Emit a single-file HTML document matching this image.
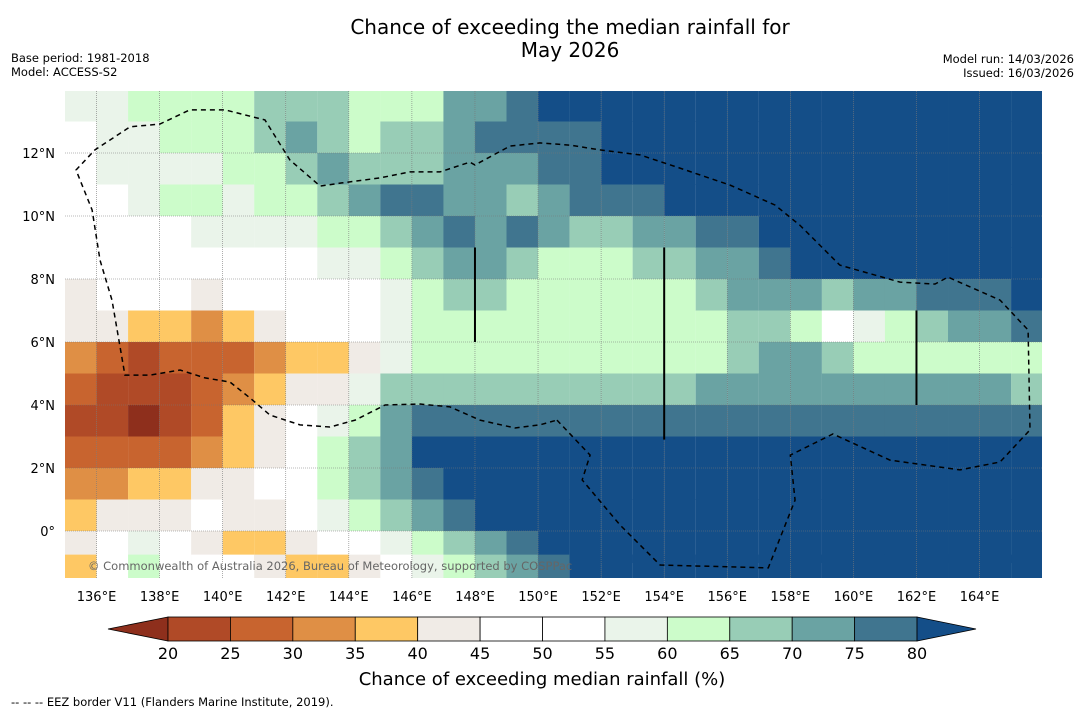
<!DOCTYPE html>
<html><head><meta charset="utf-8"><style>
body{margin:0;background:#fff;font-family:"Liberation Sans","DejaVu Sans",sans-serif;}
svg text{font-family:"DejaVu Sans","Liberation Sans",sans-serif;}
</style></head><body>
<svg id="chart" width="1085" height="713" xmlns="http://www.w3.org/2000/svg">
<text x="570" y="34" font-size="20" text-anchor="middle">Chance of exceeding the median rainfall for</text>
<text x="570" y="57" font-size="20" text-anchor="middle">May 2026</text>
<text x="11" y="62" font-size="11.5">Base period: 1981-2018</text>
<text x="11" y="76" font-size="11.5">Model: ACCESS-S2</text>
<text x="1074" y="63" font-size="11.5" text-anchor="end">Model run: 14/03/2026</text>
<text x="1074" y="77" font-size="11.5" text-anchor="end">Issued: 16/03/2026</text>
<defs><clipPath id="mapclip"><rect x="65" y="91" width="977" height="487"/></clipPath></defs>
<g id="map" clip-path="url(#mapclip)"></g>
<g id="axes"></g>
<g id="cbar"></g>
<text x="542" y="685" font-size="18" text-anchor="middle">Chance of exceeding median rainfall (%)</text>
<text x="11" y="706" font-size="11.5">--  --  -- EEZ border V11 (Flanders Marine Institute, 2019).</text>
</svg>
<script>
const levels=[20,25,30,35,40,45,50,55,60,65,70,75,80];
const colors=["#8e2f1c","#b04a27","#c8642f","#df8f45","#fec864","#f0ebe6","#ffffff","#ffffff","#eaf4ea","#ccfcca","#98cdb6","#6aa3a3","#40758f","#144e88"];
const lats=[13.5,12.5,11.5,10.5,9.5,8.5,7.5,6.5,5.5,4.5,3.5,2.5,1.5,0.5,-0.5,-1.25];
const lons=[135.5,136.5,137.5,138.5,139.5,140.5,141.5,142.5,143.5,144.5,145.5,146.5,147.5,148.5,149.5,150.5,151.5,152.5,153.5,154.5,155.5,156.5,157.5,158.5,159.5,160.5,161.5,162.5,163.5,164.5,165.5];
const grid=[
[57,57,62,62,62,62,67,67,67,62,62,62,72,72,77,85,85,85,85,85,85,85,85,85,85,85,85,85,85,85,85],
[52,57,57,62,62,62,67,72,67,62,67,67,72,77,77,77,77,82,85,85,85,85,85,85,85,85,85,85,85,85,85],
[52,57,57,57,57,62,62,67,72,67,67,67,72,72,72,77,77,82,85,85,85,85,85,85,85,85,85,85,85,85,85],
[50,52,57,62,62,57,62,62,67,72,77,77,72,72,67,72,77,77,77,82,85,85,85,85,85,85,85,85,85,85,85],
[47,50,52,52,57,57,57,57,62,62,67,72,77,72,77,72,67,67,72,72,77,77,82,85,85,85,85,85,85,85,85],
[45,45,50,50,50,50,52,52,57,57,62,67,72,72,67,62,62,62,67,67,72,72,77,82,85,85,85,85,85,85,85],
[42,45,45,47,42,45,47,50,52,52,57,62,67,67,62,62,62,62,62,62,67,72,72,72,67,72,72,77,77,77,82],
[42,42,37,37,32,37,42,45,47,52,57,62,62,62,62,62,62,62,62,62,62,67,67,62,52,57,62,67,72,72,77],
[32,27,22,27,27,27,32,37,37,42,57,62,62,62,62,62,62,62,62,62,62,67,72,72,67,62,62,62,62,62,62],
[27,22,22,22,27,32,37,42,42,57,67,67,67,67,67,67,67,67,67,67,72,72,72,72,72,72,72,72,72,72,67],
[22,22,17,22,27,37,42,47,57,62,72,77,77,77,77,77,77,77,77,77,77,77,77,77,77,77,77,77,77,77,77],
[27,27,27,27,32,37,42,52,62,67,72,82,85,85,85,85,85,85,85,85,85,85,85,85,85,85,85,85,85,85,85],
[32,32,37,37,42,42,47,50,62,67,72,77,82,85,85,85,85,85,85,85,85,85,85,85,85,85,85,85,85,85,85],
[37,42,42,42,47,42,42,50,57,62,67,72,77,85,85,85,85,85,85,85,85,85,85,85,85,85,85,85,85,85,85],
[42,47,57,47,42,37,37,42,45,50,57,62,67,72,77,82,85,85,85,85,85,85,85,85,85,85,85,85,85,85,85],
[37,52,62,52,47,47,42,37,37,42,52,57,62,67,72,77,82,85,85,85,85,85,85,85,85,85,85,85,85,85,85]];
const lonTicks=[136,138,140,142,144,146,148,150,152,154,156,158,160,162,164];
const latTicks=[0,2,4,6,8,10,12];
const eezLon=[150.6,151.65,151.4,152.6,153.87,157.3,158.15,158.0,159.35,161.16,163.38,164.65,165.6,165.54,164.65,163.0,162.59,161.48,159.57,158.3,157.51,156.09,154.5,153.23,151.96,151.01,150.06,149.11,148.0,147.84,146.89,145.94,144.99,143.78,143.09,142.13,141.34,140.07,138.96,138.01,137.06,135.95,135.35,135.86,136.11,136.49,136.9,137.7,138.65,139.44,140.23,140.87,141.5,142.45,143.4,144.2,145.15,146.26,147.21,148.16,149.27,150.06,150.6];
const eezLat=[3.52,2.41,1.62,0.19,-1.08,-1.17,0.98,2.41,3.08,2.25,1.94,2.19,3.21,6.38,7.33,8.06,7.84,7.9,8.44,9.71,10.35,10.98,11.52,11.94,12.1,12.25,12.32,12.22,11.62,11.71,11.4,11.4,11.21,11.05,10.95,11.78,13.05,13.37,13.37,12.92,12.83,12.1,11.46,10.19,8.6,7.33,4.95,4.95,5.11,4.86,4.73,4.22,3.68,3.37,3.3,3.52,4.0,4.03,3.94,3.52,3.27,3.37,3.52];
const vLines=[[148,6,9],[154,2.9,9],[162,4,7]];
const ns="http://www.w3.org/2000/svg";
const X=lon=>65+(lon-135)*31.536;
const Y=lat=>531-lat*31.5;
function colorFor(v){let i=0;while(i<levels.length&&v>=levels[i])i++;return colors[i];}
const map=document.getElementById('map');
grid.forEach((row,r)=>row.forEach((v,c)=>{
  const el=document.createElementNS(ns,'rect');
  
  
  const top=r===0?14:lats[r]+0.5;
  const bot=r===lats.length-1?-1.6:lats[r]-0.5;
  el.setAttribute('x',X(lons[c]-0.5));el.setAttribute('y',Y(top));
  el.setAttribute('width',31.6);el.setAttribute('height',Y(bot)-Y(top)+0.5);
  el.setAttribute('fill',colorFor(v));map.appendChild(el);
}));
lonTicks.forEach(l=>{const g=document.createElementNS(ns,'line');
  
  
  g.setAttribute('x1',X(l));g.setAttribute('x2',X(l));g.setAttribute('y1',91);g.setAttribute('y2',578);
  g.setAttribute('stroke','#777');g.setAttribute('stroke-width','0.6');g.setAttribute('stroke-dasharray','1,1');map.appendChild(g);});
latTicks.forEach(l=>{const g=document.createElementNS(ns,'line');
  
  
  g.setAttribute('x1',65);g.setAttribute('x2',1042);g.setAttribute('y1',Y(l));g.setAttribute('y2',Y(l));
  g.setAttribute('stroke','#777');g.setAttribute('stroke-width','0.6');g.setAttribute('stroke-dasharray','1,1');map.appendChild(g);});
const eez=document.createElementNS(ns,'polyline');


eez.setAttribute('points',eezLon.map((l,i)=>X(l)+','+Y(eezLat[i])).join(' '));
eez.setAttribute('fill','none');eez.setAttribute('stroke','#000');eez.setAttribute('stroke-width','1.5');eez.setAttribute('stroke-dasharray','5,4');
map.appendChild(eez);
vLines.forEach(v=>{const g=document.createElementNS(ns,'line');
  
  
  g.setAttribute('x1',X(v[0]));g.setAttribute('x2',X(v[0]));g.setAttribute('y1',Y(v[2]));g.setAttribute('y2',Y(v[1]));
  g.setAttribute('stroke','#000');g.setAttribute('stroke-width','2');map.appendChild(g);});
const cp=document.createElementNS(ns,'text');


cp.setAttribute('x',88);cp.setAttribute('y',570);cp.setAttribute('font-size','11.5');cp.setAttribute('fill','#666');
cp.textContent='© Commonwealth of Australia 2026, Bureau of Meteorology, supported by COSPPac';map.appendChild(cp);
const axes=document.getElementById('axes');
lonTicks.forEach(l=>{const t=document.createElementNS(ns,'text');
  
  
  t.setAttribute('x',X(l));t.setAttribute('y',601);t.setAttribute('font-size','13');t.setAttribute('text-anchor','middle');
  t.textContent=l+'°E';axes.appendChild(t);});
latTicks.forEach(l=>{const t=document.createElementNS(ns,'text');
  
  
  t.setAttribute('x',55);t.setAttribute('y',Y(l)+5);t.setAttribute('font-size','13');t.setAttribute('text-anchor','end');
  t.textContent=l===0?'0°':l+'°N';axes.appendChild(t);});
const cb=document.getElementById('cbar');
const cx0=168,cw=62.42,cy=617,ch=24;
const lt=document.createElementNS(ns,'polygon');


lt.setAttribute('points',`${cx0},${cy} 108,${cy+ch/2} ${cx0},${cy+ch}`);lt.setAttribute('fill',colors[0]);lt.setAttribute('stroke','#000');lt.setAttribute('stroke-width','0.8');cb.appendChild(lt);
for(let i=0;i<levels.length-1;i++){const r=document.createElementNS(ns,'rect');
  
  
  r.setAttribute('x',cx0+i*cw);r.setAttribute('y',cy);r.setAttribute('width',cw);r.setAttribute('height',ch);
  r.setAttribute('fill',colors[i+1]);r.setAttribute('stroke','#000');r.setAttribute('stroke-width','0.8');cb.appendChild(r);}
const xe=cx0+(levels.length-1)*cw;
const rt=document.createElementNS(ns,'polygon');


rt.setAttribute('points',`${xe},${cy} 976,${cy+ch/2} ${xe},${cy+ch}`);rt.setAttribute('fill',colors[colors.length-1]);rt.setAttribute('stroke','#000');rt.setAttribute('stroke-width','0.8');cb.appendChild(rt);
levels.forEach((l,i)=>{const t=document.createElementNS(ns,'text');
  
  
  t.setAttribute('x',cx0+i*cw);t.setAttribute('y',659);t.setAttribute('font-size','16');t.setAttribute('text-anchor','middle');
  t.textContent=l;cb.appendChild(t);});
</script>
</body></html>
